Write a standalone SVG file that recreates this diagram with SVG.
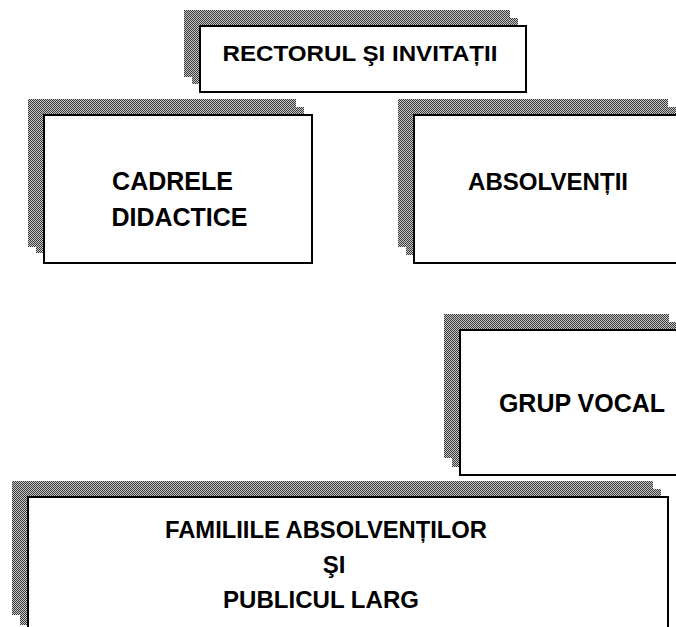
<svg xmlns="http://www.w3.org/2000/svg" width="676" height="627" viewBox="0 0 676 627">
  <defs>
    <pattern id="dither" width="2" height="2" patternUnits="userSpaceOnUse">
      <rect width="2" height="2" fill="#c4c4c4"/>
      <rect width="1" height="1" fill="#3c3c3c"/>
      <rect x="1" y="1" width="1" height="1" fill="#3c3c3c"/>
    </pattern>
    <style>
      .shadow { fill: url(#dither); stroke: none; }
      .box { fill: #ffffff; stroke: #000000; stroke-width: 2; }
      .lbl { font-family: "Liberation Sans", Arial, sans-serif; font-weight: bold; fill: #000000; text-anchor: middle; }
    </style>
  </defs>
  <rect width="676" height="627" fill="#ffffff"/>
  <g id="connectors"/>
  <g id="node-rectorul">
    <rect class="shadow" x="184" y="10" width="326" height="67"/>
    <rect class="shadow" x="192" y="18" width="326" height="66"/>
    <rect class="box" x="200" y="26" width="326" height="66"/>
    <text class="lbl" x="360" y="61" font-size="22" textLength="275" lengthAdjust="spacingAndGlyphs">RECTORUL ŞI INVITAȚII</text>
  </g>
  <g id="node-cadrele">
    <rect class="shadow" x="28" y="99" width="268" height="148"/>
    <rect class="shadow" x="36" y="107" width="268" height="146"/>
    <rect class="box" x="44" y="115" width="268" height="148"/>
    <text class="lbl" x="172.5" y="190" font-size="25">CADRELE</text>
    <text class="lbl" x="179.5" y="226" font-size="25">DIDACTICE</text>
  </g>
  <g id="node-absolventii">
    <rect class="shadow" x="398" y="99" width="270" height="148"/>
    <rect class="shadow" x="406" y="107" width="270" height="148"/>
    <rect class="box" x="414" y="115" width="270" height="148"/>
    <text class="lbl" x="548" y="190" font-size="24" textLength="160" lengthAdjust="spacingAndGlyphs">ABSOLVENȚII</text>
  </g>
  <g id="node-grup-vocal">
    <rect class="shadow" x="444" y="314" width="225" height="144"/>
    <rect class="shadow" x="452" y="322" width="225" height="145"/>
    <rect class="box" x="460" y="330" width="225" height="145"/>
    <text class="lbl" x="582" y="412" font-size="25">GRUP VOCAL</text>
  </g>
  <g id="node-familiile">
    <rect class="shadow" x="12" y="481" width="641" height="134"/>
    <rect class="shadow" x="20" y="489" width="641" height="136"/>
    <rect class="box" x="28" y="497" width="640" height="136"/>
    <text class="lbl" x="326" y="538" font-size="24" textLength="322" lengthAdjust="spacingAndGlyphs">FAMILIILE ABSOLVENȚILOR</text>
    <text class="lbl" x="334" y="573" font-size="24">ŞI</text>
    <text class="lbl" x="321" y="608" font-size="24" textLength="196" lengthAdjust="spacingAndGlyphs">PUBLICUL LARG</text>
  </g>
</svg>
